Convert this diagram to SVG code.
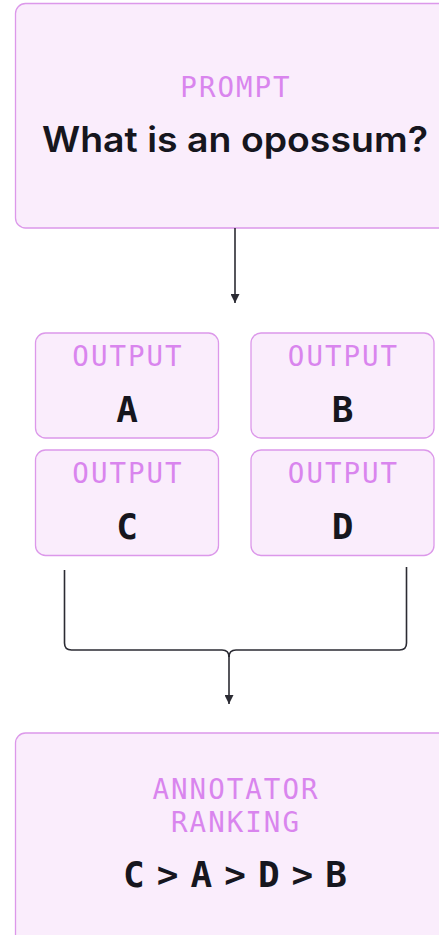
<svg xmlns="http://www.w3.org/2000/svg" width="439" height="935" viewBox="0 0 439 935">
  <defs>
    <style>
      .box { fill: #faedfc; stroke: #dc98ea; stroke-width: 1.3; }
      .label { font-family: "DejaVu Sans Mono", "Liberation Mono", monospace; font-size: 27.5px; fill: #d985ee; text-anchor: middle; letter-spacing: 2px; }
      .title { font-family: Inter, "Liberation Sans", sans-serif; font-weight: 600; font-size: 35px; fill: #16161e; text-anchor: middle; }
      .code { font-family: "DejaVu Sans Mono", "Liberation Mono", monospace; font-weight: 700; font-size: 36px; fill: #16161e; text-anchor: middle; }
      .wire { fill: none; stroke: #2b2b33; stroke-width: 1.6; }
    </style>
    <marker id="arrow" viewBox="0 0 10 10" refX="10" refY="5" markerWidth="9" markerHeight="9" markerUnits="userSpaceOnUse" orient="auto">
      <path d="M0,0 L10,5 L0,10 Z" fill="#2b2b33"/>
    </marker>
  </defs>

  <rect width="439" height="935" fill="#ffffff"/>

  <!-- prompt -->
  <g id="prompt">
    <rect class="box" x="15.5" y="3.5" width="440" height="224.5" rx="10"/>
    <text class="label" x="236" y="97">PROMPT</text>
    <text class="title" x="235" y="152" textLength="386" lengthAdjust="spacingAndGlyphs">What is an opossum?</text>
  </g>

  <!-- outputs -->
  <g id="output-a">
    <rect class="box" x="35.5" y="333" width="183" height="105" rx="10"/>
    <text class="label" x="128" y="366">OUTPUT</text>
    <text class="code" x="127" y="422">A</text>
  </g>
  <g id="output-b">
    <rect class="box" x="251" y="333" width="183" height="105" rx="10"/>
    <text class="label" x="343.5" y="366">OUTPUT</text>
    <text class="code" x="342.5" y="422">B</text>
  </g>
  <g id="output-c">
    <rect class="box" x="35.5" y="450" width="183" height="105.5" rx="10"/>
    <text class="label" x="128" y="483">OUTPUT</text>
    <text class="code" x="127" y="539">C</text>
  </g>
  <g id="output-d">
    <rect class="box" x="251" y="450" width="183" height="105.5" rx="10"/>
    <text class="label" x="343.5" y="483">OUTPUT</text>
    <text class="code" x="342.5" y="539">D</text>
  </g>

  <!-- ranking -->
  <g id="ranking">
    <rect class="box" x="15.5" y="733" width="440" height="215" rx="10"/>
    <text class="label" x="236" y="799">ANNOTATOR</text>
    <text class="label" x="236" y="832">RANKING</text>
    <text class="code" x="235" y="887" font-size="34" textLength="224" lengthAdjust="spacing">C &gt; A &gt; D &gt; B</text>
  </g>

  <!-- connectors -->
  <g id="connectors">
    <path class="wire" d="M235,228 V303" marker-end="url(#arrow)"/>
    <path class="wire" d="M64.5,570 V643 Q64.5,650 71.5,650 H222 Q229,650 229,657"/>
    <path class="wire" d="M406.5,567 V643 Q406.5,650 399.5,650 H236 Q229,650 229,657"/>
    <path class="wire" d="M229,656 V704" marker-end="url(#arrow)"/>
  </g>
</svg>
